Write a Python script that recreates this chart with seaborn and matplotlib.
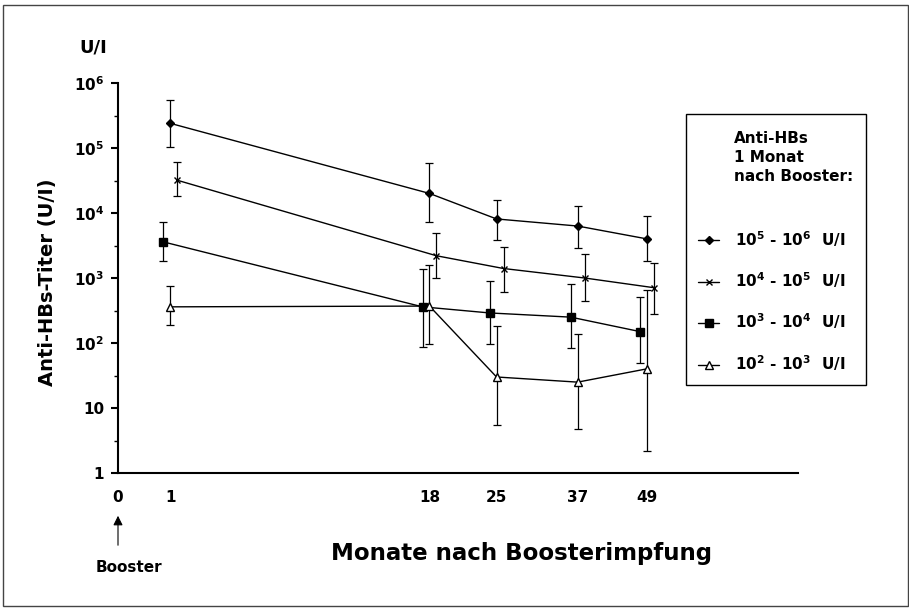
import numpy as np
import pandas as pd
import matplotlib
matplotlib.use('Agg')
import matplotlib.pyplot as plt
import matplotlib.transforms as mtransforms
from matplotlib.patches import Rectangle
from matplotlib.ticker import FixedLocator, LogLocator, NullFormatter
import seaborn as sns

# Monate nach Boosterimpfung
months = [1, 18, 25, 37, 49]
xtick_vals = [0, 1, 18, 25, 37, 49]
xtick_labels = ['0', '1', '18', '25', '37', '49']

# Gruppen (Anti-HBs 1 Monat nach Booster)
groups = ['$\\mathbf{10^{5}}$ - $\\mathbf{10^{6}}$  U/I',
          '$\\mathbf{10^{4}}$ - $\\mathbf{10^{5}}$  U/I',
          '$\\mathbf{10^{3}}$ - $\\mathbf{10^{4}}$  U/I',
          '$\\mathbf{10^{2}}$ - $\\mathbf{10^{3}}$  U/I']

# Mittelwerte und Fehlerbalken (unten / oben)
g1_mean = [2.4e5, 2.0e4, 8.1e3, 6.3e3, 4.0e3]
g1_low = [1.04e5, 7.3e3, 3.8e3, 2.9e3, 1.8e3]
g1_high = [5.5e5, 5.9e4, 1.6e4, 1.3e4, 9.0e3]

g2_mean = [3.2e4, 2.2e3, 1.4e3, 1.0e3, 7.1e2]
g2_low = [1.8e4, 1.0e3, 6.0e2, 4.4e2, 2.8e2]
g2_high = [6.1e4, 4.9e3, 3.0e3, 2.3e3, 1.7e3]

g3_mean = [3.6e3, 3.6e2, 2.9e2, 2.5e2, 1.5e2]
g3_low = [1.8e3, 87, 96, 84, 49]
g3_high = [7.3e3, 1.4e3, 9.0e2, 8.1e2, 5.1e2]

g4_mean = [360, 370, 30, 25, 40]
g4_low = [190, 96, 5.5, 4.8, 2.2]
g4_high = [750, 1600, 180, 140, 660]

ytick_vals = [1, 10, 1e2, 1e3, 1e4, 1e5, 1e6]
ytick_labels = ['1', '10', '$\\mathbf{10^{2}}$', '$\\mathbf{10^{3}}$', '$\\mathbf{10^{4}}$',
                '$\\mathbf{10^{5}}$', '$\\mathbf{10^{6}}$']

series = [
    (groups[0], g1_mean, g1_low, g1_high),
    (groups[1], g2_mean, g2_low, g2_high),
    (groups[2], g3_mean, g3_low, g3_high),
    (groups[3], g4_mean, g4_low, g4_high),
]

# Stil
sns.set_style('ticks')
plt.rcParams['font.family'] = ['DejaVu Sans']
plt.rcParams['font.weight'] = 'bold'
plt.rcParams['mathtext.fontset'] = 'dejavusans'
plt.rcParams['axes.linewidth'] = 1.5
for key in ['text.color', 'axes.labelcolor', 'xtick.color', 'ytick.color', 'axes.edgecolor']:
    plt.rcParams[key] = 'black'

fig = plt.figure(figsize=(9.09, 6.08), dpi=100)
W, H = 909, 608
ax = fig.add_axes([118 / W, 1 - 473 / H, (798 - 118) / W, (473 - 83) / H])

# nichtlineare Zeitachse (wie im Original gezeichnet)
knots_m = [0, 1, 18, 25, 37, 49, 75]
knots_u = [0, 52, 311, 378, 459, 528, 679]


def fwd(x):
    return np.interp(x, knots_m, knots_u)


def inv(u):
    return np.interp(u, knots_u, knots_m)


ax.set_xscale('function', functions=(fwd, inv))
ax.set_yscale('log')
ax.set_xlim(0, 75)
ax.set_ylim(1, 1e6)

markers = ['D', 'x', 's', '^']
msizes = [4, 4.5, 5.5, 5.5]
mfaces = ['black', 'black', 'black', 'white']
dodge_pt = [0, 5, -5, 0]  # Versatz der Gruppen in Punkten

for i, (name, mean, low, high) in enumerate(series):
    df = pd.DataFrame({'month': months, 'titer': mean})
    tr = ax.transData + mtransforms.ScaledTranslation(dodge_pt[i] / 72, 0, fig.dpi_scale_trans)
    mean_a = np.array(mean)
    yerr = [mean_a - np.array(low), np.array(high) - mean_a]
    ax.errorbar(months, mean, yerr=yerr, fmt='none', ecolor='black', elinewidth=0.9,
                capsize=3, capthick=0.9, transform=tr, zorder=2)
    sns.lineplot(data=df, x='month', y='titer', ax=ax, color='black', linewidth=1.0,
                 marker=markers[i], markersize=msizes[i], markerfacecolor=mfaces[i],
                 markeredgecolor='black', markeredgewidth=1.0, label=name,
                 transform=tr, zorder=3, legend=False)

sns.despine(ax=ax)

ax.xaxis.set_major_locator(FixedLocator(xtick_vals))
ax.set_xticklabels(xtick_labels, fontsize=11, fontweight='bold')
ax.xaxis.set_minor_locator(FixedLocator([]))
ax.tick_params(axis='x', length=0, pad=12)

ax.yaxis.set_major_locator(FixedLocator(ytick_vals))
ax.set_yticklabels(ytick_labels, fontsize=11, fontweight='bold')
ax.yaxis.set_minor_locator(LogLocator(base=10, subs=(3.16,)))
ax.yaxis.set_minor_formatter(NullFormatter())
ax.tick_params(axis='y', which='major', length=5, width=1.5, pad=5)
ax.tick_params(axis='y', which='minor', length=3, width=1.0)

ax.set_ylabel('Anti-HBs-Titer (U/I)', fontsize=14, fontweight='bold')
ax.yaxis.set_label_coords(-0.090, 0.49)
ax.set_xlabel('Monate nach Boosterimpfung', fontsize=16.5, fontweight='bold')
ax.xaxis.set_label_coords(0.593, -0.178)

fig.text(93 / W, 1 - 48 / H, 'U/I', fontsize=13, fontweight='bold', ha='center', va='center')

# Booster-Pfeil
ax.annotate('', xy=(0, 1 - 513 / H), xytext=(0, 1 - 548 / H),
            xycoords=('data', 'figure fraction'), textcoords=('data', 'figure fraction'),
            arrowprops=dict(arrowstyle='-|>', color='black', lw=0.8, mutation_scale=14))
fig.text(129 / W, 1 - 567 / H, 'Booster', fontsize=11, fontweight='bold', ha='center', va='center')

# Legende
fig.patches.append(Rectangle((686 / W, 1 - 385 / H), (866 - 686) / W, (385 - 114) / H,
                             transform=fig.transFigure, fill=False, edgecolor='black', lw=1.0))
fig.text(734 / W, 1 - 131 / H, 'Anti-HBs\n1 Monat\nnach Booster:', fontsize=11,
         fontweight='bold', ha='left', va='top', linespacing=1.35)
ax.legend(loc='upper left', bbox_to_anchor=(698 / W, 1 - 229 / H),
          bbox_transform=fig.transFigure, frameon=False, borderpad=0, borderaxespad=0,
          handlelength=1.4, handletextpad=1.0, labelspacing=1.42,
          prop={'size': 11, 'weight': 'bold'})

# Rahmen um die ganze Abbildung
fig.patches.append(Rectangle((3 / W, 1 - 606 / H), (908 - 3) / W, (606 - 5) / H,
                             transform=fig.transFigure, fill=False, edgecolor='#444444', lw=1.0))

fig.savefig('out.png', dpi=100, facecolor='white')
